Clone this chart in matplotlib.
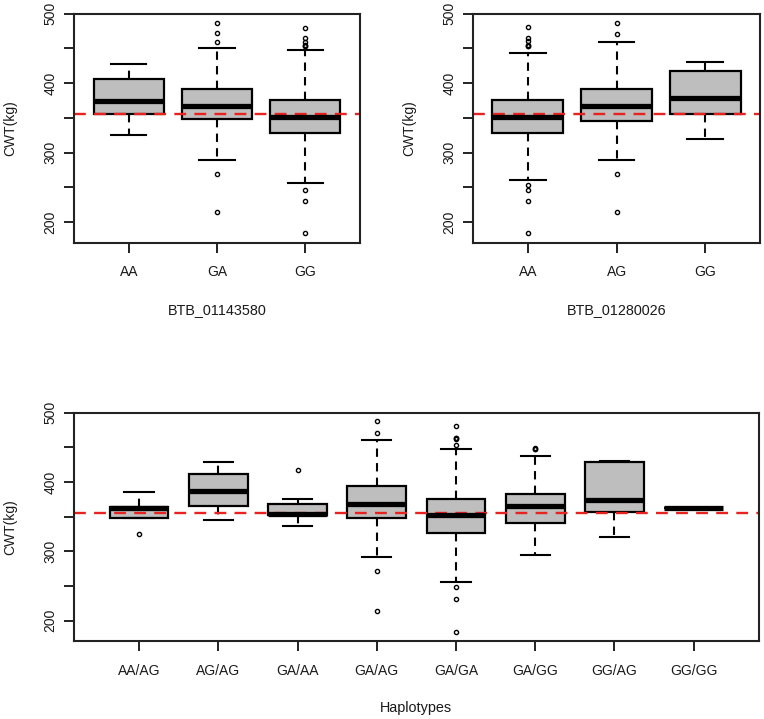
import matplotlib
matplotlib.use("Agg")
import matplotlib.pyplot as plt

plt.rcParams["font.family"] = ["Liberation Sans", "DejaVu Sans"]

TEXT = "#1a1a1a"
MEAN_CWT = 355

# BTB_01143580
snp1_labels = ["AA", "GA", "GG"]
snp1_whislo = [325, 290, 256]
snp1_q1 = [355, 348, 328]
snp1_med = [374, 367, 352]
snp1_q3 = [406, 392, 376]
snp1_whishi = [427, 450, 448]
snp1_fliers = [[], [487, 472, 459, 270, 214],
               [480, 465, 459, 455, 454, 453, 246, 230, 184]]

# BTB_01280026
snp2_labels = ["AA", "AG", "GG"]
snp2_whislo = [260, 290, 320]
snp2_q1 = [328, 346, 355]
snp2_med = [352, 367, 378]
snp2_q3 = [376, 392, 418]
snp2_whishi = [443, 459, 430]
snp2_fliers = [[481, 465, 460, 455, 454, 453, 254, 246, 230, 184],
               [487, 471, 270, 214], []]

# Haplotypes
hap_labels = ["AA/AG", "AG/AG", "GA/AA", "GA/AG", "GA/GA", "GA/GG", "GG/AG", "GG/GG"]
hap_whislo = [348, 345, 336, 292, 256, 295, 320, 362]
hap_q1 = [348, 366, 352, 348, 327, 341, 357, 362]
hap_med = [362, 387, 354, 368, 352, 365, 374, 362]
hap_q3 = [364, 412, 368, 394, 376, 382, 429, 362]
hap_whishi = [385, 429, 376, 461, 447, 437, 431, 362]
hap_fliers = [[325], [], [417], [488, 470, 272, 214],
              [481, 464, 463, 462, 454, 248, 231, 184], [449, 448, 447], [], []]


def make_stats(whislo, q1, med, q3, whishi, fliers):
    stats = []
    for i in range(len(med)):
        stats.append(dict(whislo=whislo[i], q1=q1[i], med=med[i], q3=q3[i],
                          whishi=whishi[i], fliers=fliers[i]))
    return stats


def draw_panel(ax, stats, labels, xlabel, width):
    n = len(stats)
    ax.bxp(stats, positions=range(1, n + 1), widths=width,
           capwidths=width / 2, patch_artist=True, showfliers=True,
           boxprops=dict(facecolor="#bebebe", edgecolor="black", linewidth=1.6),
           medianprops=dict(color="black", linewidth=3.8, solid_capstyle="butt"),
           whiskerprops=dict(color="black", linewidth=1.5, linestyle=(0, (4, 3))),
           capprops=dict(color="black", linewidth=1.5),
           flierprops=dict(marker="o", markersize=3, markerfacecolor="none",
                           markeredgecolor="black", markeredgewidth=1))
    ax.axhline(MEAN_CWT, color="#e8221f", linewidth=1.7, linestyle=(0, (5, 3.5)))
    ext = 0.04 * n
    ax.set_xlim(0.5 - ext, n + 0.5 + ext)
    ax.set_ylim(170, 500)
    ax.set_yticks([200, 250, 300, 350, 400, 450, 500])
    ax.set_yticklabels(["200", "", "300", "", "400", "", "500"],
                       rotation=90, va="center")
    ax.set_xticks(range(1, n + 1))
    ax.set_xticklabels(labels)
    ax.tick_params(axis="both", direction="out", length=7, width=1.4,
                   color="#222222", labelsize=10, labelcolor=TEXT)
    ax.tick_params(axis="x", pad=9)
    ax.tick_params(axis="y", pad=5)
    for sp in ax.spines.values():
        sp.set_linewidth(1.5)
        sp.set_color("#222222")
    ax.set_ylabel("CWT(kg)", fontsize=10, color=TEXT, labelpad=19)
    ax.set_xlabel(xlabel, fontsize=10.4, color=TEXT, labelpad=17)


fig = plt.figure(figsize=(7.64, 7.19), dpi=100)
ax1 = fig.add_axes([0.097, 0.662, 0.374, 0.319])
ax2 = fig.add_axes([0.619, 0.662, 0.376, 0.319])
ax3 = fig.add_axes([0.097, 0.108, 0.896, 0.318])

draw_panel(ax1, make_stats(snp1_whislo, snp1_q1, snp1_med, snp1_q3, snp1_whishi, snp1_fliers),
           snp1_labels, "BTB_01143580", 0.8)
draw_panel(ax2, make_stats(snp2_whislo, snp2_q1, snp2_med, snp2_q3, snp2_whishi, snp2_fliers),
           snp2_labels, "BTB_01280026", 0.8)
draw_panel(ax3, make_stats(hap_whislo, hap_q1, hap_med, hap_q3, hap_whishi, hap_fliers),
           hap_labels, "Haplotypes", 0.74)

fig.savefig("out.png", dpi=100, facecolor="white")
